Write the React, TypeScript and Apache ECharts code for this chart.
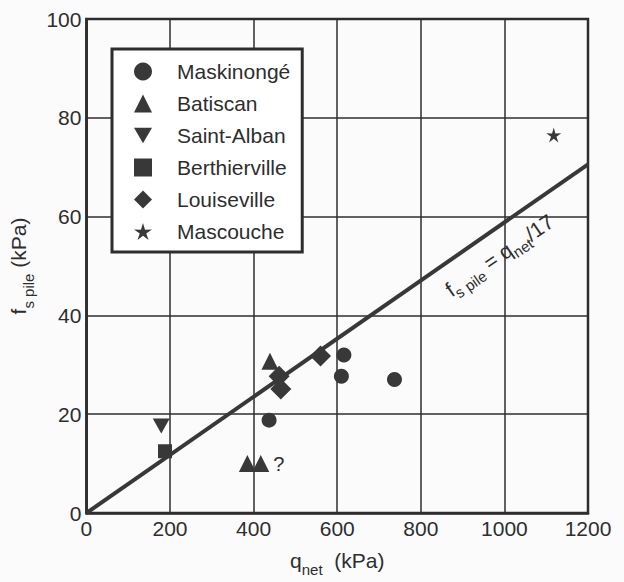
import React, { useEffect, useRef } from "react";
import * as echarts from "echarts";

const xTicks = [0, 200, 400, 600, 800, 1000, 1200];
const yTicks = [0, 20, 40, 60, 80, 100];

const seriesNames = ["Maskinongé", "Batiscan", "Saint-Alban", "Berthierville", "Louiseville", "Mascouche"];

const maskinonge = [[437, 18.8], [616, 32], [610, 27.7], [737, 27]];
const batiscan = [[385, 10], [417, 10], [439, 30.7]];
const saintAlban = [[179, 17.6]];
const berthierville = [[188, 12.5]];
const louiseville = [[461, 27.7], [465, 25.1], [560, 31.8]];
const mascouche = [[1118, 76.5]];

const questionPointIndex = 1; // Batiscan point flagged with "?"
const ratio = 17;
const fitLabelAt = 955; // q_net where the equation label sits

const FONT = "'Liberation Sans', Arial, Helvetica, sans-serif";
const INK = "#2e2e2e";
const MARK = "#383838";

function starPath(): string {
  const pts: string[] = [];
  for (let i = 0; i < 10; i++) {
    const r = i % 2 === 0 ? 10 : 3.6;
    const a = (-90 + i * 36) * Math.PI / 180;
    pts.push((i === 0 ? "M" : "L") + (10 + r * Math.cos(a)).toFixed(2) + "," + (10 + r * Math.sin(a)).toFixed(2));
  }
  return "path://" + pts.join("") + "Z";
}

export default function App() {
  const ref = useRef<HTMLDivElement>(null);
  useEffect(() => {
    if (!ref.current) return;
    const chart = echarts.init(ref.current, null, { renderer: "svg" });
    const sub = { fontSize: 15, lineHeight: 12, verticalAlign: "bottom", fontFamily: FONT, color: INK };
    const main = { fontSize: 21, lineHeight: 34, verticalAlign: "middle", fontFamily: FONT, color: INK };
    const scatterBase = (name: string, data: any[], symbol: string, size: number | number[]) => ({
      name,
      type: "scatter",
      data,
      symbol,
      symbolSize: size,
      itemStyle: { color: MARK, opacity: 1 },
      z: 3,
    });
    const xMax = xTicks[xTicks.length - 1];
    const option: any = {
      animation: false,
      backgroundColor: "#fbfbfb",
      textStyle: { fontFamily: FONT },
      grid: { left: 81, right: 36, top: 19, bottom: 60, show: true, borderColor: INK, borderWidth: 2.5, backgroundColor: "transparent" },
      xAxis: {
        type: "value",
        min: xTicks[0],
        max: xMax,
        interval: 200,
        name: "{a|q}{s|net}{a|  (kPa)}",
        nameLocation: "middle",
        nameGap: 30,
        nameTextStyle: { rich: { a: main, s: sub } },
        axisLine: { show: true, lineStyle: { color: INK, width: 2.5 } },
        axisTick: { show: false },
        axisLabel: { color: INK, fontSize: 21, fontFamily: FONT, margin: 5, formatter: (v: number) => String(v) },
        splitLine: { show: true, lineStyle: { color: INK, width: 1.5 } },
      },
      yAxis: {
        type: "value",
        min: yTicks[0],
        max: yTicks[yTicks.length - 1],
        interval: 20,
        name: "{a|f}{s|s pile}{a| (kPa)}",
        nameLocation: "middle",
        nameGap: 28,
        nameRotate: 90,
        nameTextStyle: { rich: { a: main, s: sub } },
        axisLine: { show: true, lineStyle: { color: INK, width: 2.5 } },
        axisTick: { show: false },
        axisLabel: { color: INK, fontSize: 21, fontFamily: FONT, margin: 5 },
        splitLine: { show: true, lineStyle: { color: INK, width: 1.5 } },
      },
      legend: {
        orient: "vertical",
        left: 112,
        top: 49,
        data: seriesNames,
        backgroundColor: "#ffffff",
        borderColor: INK,
        borderWidth: 3,
        borderRadius: 0,
        padding: [12, 12, 10, 22],
        itemWidth: 18,
        itemHeight: 18,
        itemGap: 11,
        textStyle: { fontSize: 21, color: INK, fontFamily: FONT, padding: [0, 0, 0, 20], width: 116 },
        z: 10,
      },
      series: [
        scatterBase(seriesNames[0], maskinonge, "circle", 15),
        scatterBase(seriesNames[1], batiscan.map((p, i) => i === questionPointIndex
          ? { value: p, label: { show: true, formatter: "?", position: "right", distance: 4, fontSize: 20, color: INK, fontFamily: FONT } }
          : p), "triangle", 17),
        scatterBase(seriesNames[2], saintAlban, "path://M0,0L20,0L10,17Z", [17, 15]),
        scatterBase(seriesNames[3], berthierville, "rect", 14),
        scatterBase(seriesNames[4], louiseville, "diamond", 21),
        scatterBase(seriesNames[5], mascouche, starPath(), 15),
        {
          name: "fit",
          type: "line",
          data: [[xTicks[0], xTicks[0] / ratio], [xMax, xMax / ratio]],
          symbol: "none",
          silent: true,
          lineStyle: { color: MARK, width: 4 },
          z: 2,
        },
      ],
    };
    chart.setOption(option);

    // equation label along the fit line, positioned through the chart's scales
    const p0 = chart.convertToPixel({ gridIndex: 0 }, [xTicks[0], xTicks[0] / ratio]) as number[];
    const p1 = chart.convertToPixel({ gridIndex: 0 }, [xMax, xMax / ratio]) as number[];
    const pc = chart.convertToPixel({ gridIndex: 0 }, [fitLabelAt, fitLabelAt / ratio]) as number[];
    const ang = Math.atan2(p0[1] - p1[1], p1[0] - p0[0]);
    const off = 24;
    const cx = pc[0] + off * Math.sin(ang);
    const cy = pc[1] + off * Math.cos(ang);
    chart.setOption({
      graphic: [
        {
          type: "text",
          x: cx,
          y: cy,
          rotation: ang,
          z: 20,
          style: {
            text: "{a|f}{s|s pile}{a| = q}{s|net}{a|/17}",
            rich: { a: { ...main, lineHeight: 30 }, s: sub },
            align: "center",
            verticalAlign: "middle",
            fill: INK,
          },
        },
      ],
    });
    return () => chart.dispose();
  }, []);
  return <div ref={ref} style={{ position: "fixed", left: 0, top: 0, width: 624, height: 582 }} />;
}
